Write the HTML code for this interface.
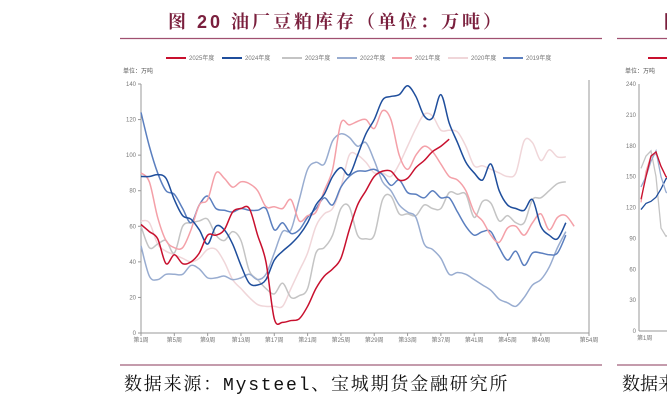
<!DOCTYPE html>
<html><head><meta charset="utf-8"><style>
body{margin:0;background:#fff;width:667px;height:402px;overflow:hidden;position:relative;font-family:"Liberation Sans","Noto Sans CJK SC",sans-serif}
#title{position:absolute;left:168px;top:8px;font-size:18px;font-weight:bold;color:#7a1f3d;letter-spacing:3px;white-space:nowrap;font-family:"Liberation Sans","Noto Serif CJK SC",serif}
#src{position:absolute;left:124px;top:370px;font-size:18px;color:#111;letter-spacing:1.8px;white-space:nowrap;font-family:"Liberation Mono","Noto Serif CJK SC",serif}
#src2{position:absolute;left:622px;top:370px;font-size:18px;color:#111;white-space:nowrap;font-family:"Liberation Mono","Noto Serif CJK SC",serif}
#title2{position:absolute;left:664px;top:8px;font-size:18px;font-weight:bold;color:#7a1f3d}
svg{position:absolute;left:0;top:0}
</style></head><body>
<div id="title">图 20 油厂豆粕库存（单位：万吨）</div>
<div id="title2">图</div>
<div id="src">数据来源：Mysteel、宝城期货金融研究所</div>
<div id="src2">数据来</div>
<svg id="chart" width="667" height="402"></svg>
<script>
const years=["2025年度","2024年度","2023年度","2022年度","2021年度","2020年度","2019年度"];
const colors=["#c8102e","#1f4e9c","#c4c4c4","#98acd0","#f4a0a8","#f0d6d9","#5b7fbf"];
const s2025=[61,57,53,39,44,39,40,45,55,55,58,68,70,70,55,40,8,6,7,8,15,25,32,36,42,58,72,80,88,91,91,86,87,93,97,102,105,109];
const s2024=[88,88,89,87,75,66,64,58,50,60,58,50,38,28,27,30,41,46,50,55,62,72,78,88,93,89,100,112,120,131,133,134,139,133,122,121,134,118,107,96,90,86,95,80,72,70,69,75,60,55,53,62];
const s2023=[60,48,50,52,45,60,62,63,64,55,52,57,52,35,30,25,22,28,20,21,25,45,48,55,70,71,55,53,55,75,77,67,67,66,72,70,70,79,78,78,65,74,73,63,66,62,62,75,76,80,84,85];
const s2022=[49,32,30,33,33,33,38,36,31,31,32,30,31,33,30,33,45,57,58,75,92,96,95,108,112,110,105,107,97,85,80,72,68,65,50,47,42,33,34,33,30,27,24,19,17,15,20,27,30,37,48,57];
const s2021=[90,85,65,52,48,48,58,72,75,90,87,82,85,84,80,71,71,70,75,63,66,68,80,92,118,117,119,120,115,125,120,100,92,100,105,102,95,88,86,80,68,63,55,51,59,60,55,62,67,58,65,66,60];
const s2020=[63,62,50,46,44,42,40,42,47,47,40,30,25,20,16,15,15,15,25,35,45,60,67,70,82,100,100,96,90,90,88,95,105,115,123,122,114,114,113,105,94,94,92,90,88,90,108,107,97,103,99,99];
const s2019=[124,105,90,80,78,70,62,72,77,70,69,68,70,69,69,70,58,62,56,58,65,70,76,72,82,88,91,91,92,89,83,86,79,78,76,80,76,76,68,60,55,57,57,48,41,46,38,45,45,44,45,55];
const series=[s2025,s2024,s2023,s2022,s2021,s2020,s2019];
const yTicks=[0,20,40,60,80,100,120,140];
const xTickWeeks=[1,5,9,13,17,21,25,29,33,37,41,45,49,54];
const xTickLabels=["第1周","第5周","第9周","第13周","第17周","第21周","第25周","第29周","第33周","第37周","第41周","第45周","第49周","第54周"];
const X0=141,X1=589,Y0=333,Y1=84;
const xs=w=>w===54?X1:X0+(w-1)*8.33;
const ys=v=>Y0-(v/140)*(Y0-Y1);
const svg=document.getElementById('chart');
const NS="http://www.w3.org/2000/svg";
function mk(t,a){const e=document.createElementNS(NS,t);for(const k in a)e.setAttribute(k,a[k]);svg.appendChild(e);return e;}
let l=mk('line',{x1:120,y1:38.5,x2:602,y2:38.5,stroke:'#a05070','stroke-width':1.3});


l=mk('line',{x1:617,y1:38.5,x2:667,y2:38.5,stroke:'#a05070','stroke-width':1.3});


l=mk('line',{x1:120,y1:365,x2:602,y2:365,stroke:'#b07a90','stroke-width':1.5});


l=mk('line',{x1:617,y1:365,x2:667,y2:365,stroke:'#b07a90','stroke-width':1.5});


l=mk('line',{x1:X0,y1:Y1,x2:X0,y2:Y0,stroke:'#999','stroke-width':1});


l=mk('line',{x1:X0,y1:Y0,x2:X1,y2:Y0,stroke:'#999','stroke-width':1});


l=mk('line',{x1:X1,y1:Y1-4,x2:X1,y2:Y0,stroke:'#999','stroke-width':1});


let t=mk('text',{x:123,y:73,'font-size':6,fill:'#555'});t.textContent='单位：万吨';


yTicks.forEach(v=>{
 const y=ys(v);
 const tk=mk('line',{x1:X0-3,y1:y,x2:X0,y2:y,stroke:'#999'});
 
 
 const tx=mk('text',{x:X0-5,y:y+2,'font-size':6,fill:'#777','text-anchor':'end'});tx.textContent=v;
 
 
});
xTickWeeks.forEach((w,i)=>{
 const x=xs(w);
 const tk=mk('line',{x1:x,y1:Y0,x2:x,y2:Y0+3,stroke:'#999'});
 
 
 const tx=mk('text',{x:x,y:Y0+9,'font-size':6,fill:'#777','text-anchor':'middle'});tx.textContent=xTickLabels[i];
 
 
});
function pathFor(arr){
 const p=arr.map((v,i)=>[xs(i+1),ys(v)]);
 let d='M'+p[0][0]+','+p[0][1];
 for(let i=0;i<p.length-1;i++){
  const a=p[Math.max(0,i-1)],b=p[i],c=p[i+1],e=p[Math.min(p.length-1,i+2)];
  const c1=[b[0]+(c[0]-a[0])/6,b[1]+(c[1]-a[1])/6],c2=[c[0]-(e[0]-b[0])/6,c[1]-(e[1]-b[1])/6];
  d+=`C${c1[0]},${c1[1]} ${c2[0]},${c2[1]} ${c[0]},${c[1]}`;
 }
 return d;
}
[5,2,3,6,4,1,0].forEach(i=>{
 const pth=mk('path',{d:pathFor(series[i]),fill:'none',stroke:colors[i],'stroke-width':1.5});
 
 
});
const lx=[166,222,282,337,392,448,503];
years.forEach((y,i)=>{
 const ln=mk('line',{x1:lx[i],y1:58,x2:lx[i]+20,y2:58,stroke:colors[i],'stroke-width':2});
 
 
 const tx=mk('text',{x:lx[i]+23,y:60,'font-size':6,fill:'#777'});tx.textContent=y;
 
 
});
const nA=639,nY0=331,nY1=84;
l=mk('line',{x1:nA,y1:nY1,x2:nA,y2:nY0,stroke:'#999'});


l=mk('line',{x1:nA,y1:nY0,x2:667,y2:nY0,stroke:'#999'});


const nTicks=[0,30,60,90,120,150,180,210,240];
nTicks.forEach(v=>{
 const y=nY0-v/240*(nY0-nY1);
 const tx=mk('text',{x:nA-3,y:y+2,'font-size':6,fill:'#777','text-anchor':'end'});tx.textContent=v;
 
 
});
t=mk('text',{x:625,y:73,'font-size':6,fill:'#555'});t.textContent='单位：万吨';


t=mk('text',{x:637,y:340,'font-size':6,fill:'#777'});t.textContent='第1周';


const nS=[[158,170,175,150,100,92,95],[125,155,170,172,160,150,140],[118,124,126,130,138,148,150],[140,150,165,175,150,135,132],[128,150,170,174,160,150,148]];
const nC=["#c4c4c4","#f4a0a8","#1f4e9c","#98acd0","#c8102e"];
nS.forEach((arr,k)=>{
 const d=arr.map((v,i)=>(i?'L':'M')+(641+i*5)+','+(nY0-v/240*(nY0-nY1))).join('');
 const p=mk('path',{d:d,fill:'none',stroke:nC[k],'stroke-width':1.3});
 
 
});
l=mk('line',{x1:648,y1:58,x2:667,y2:58,stroke:'#c8102e','stroke-width':2});


</script>
</body></html>
